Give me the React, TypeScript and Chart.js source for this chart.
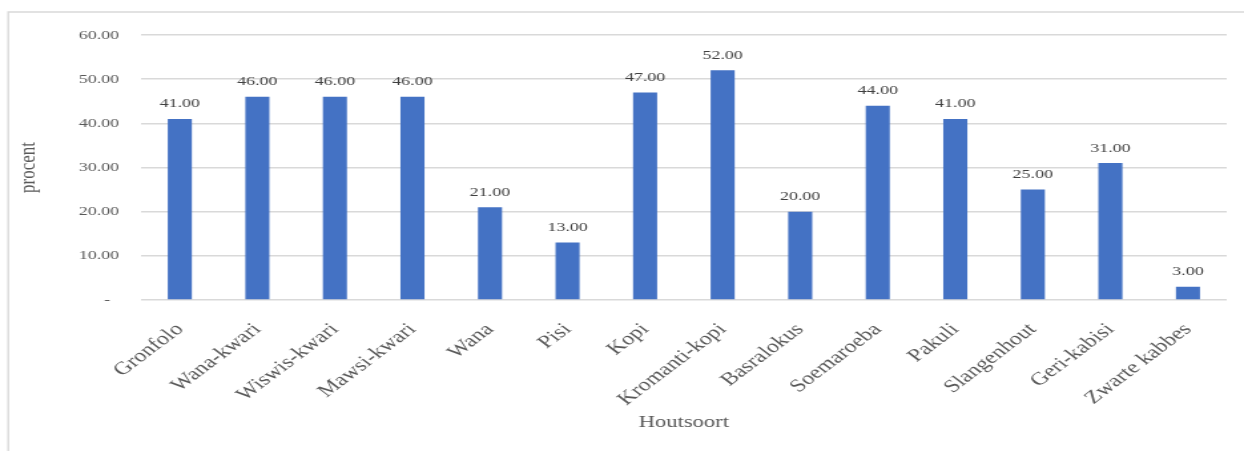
import React, { useEffect, useRef } from "react";
import { Chart, registerables } from "chart.js";

Chart.register(...registerables);

const categories: string[] = [
  "Gronfolo",
  "Wana-kwari",
  "Wiswis-kwari",
  "Mawsi-kwari",
  "Wana",
  "Pisi",
  "Kopi",
  "Kromanti-kopi",
  "Basralokus",
  "Soemaroeba",
  "Pakuli",
  "Slangenhout",
  "Geri-kabisi",
  "Zwarte kabbes",
];

const percentages: number[] = [41, 46, 46, 46, 21, 13, 47, 52, 20, 44, 41, 25, 31, 3];

const yTickValues: number[] = [0, 10, 20, 30, 40, 50, 60];

const SERIF = "'Liberation Serif', 'Times New Roman', serif";
const AXIS_GREY = "#595959";
const GRID_GREY = "#d9d9d9";
const BAR_BLUE = "#4472C4";

// The drawing surface is rendered narrower than it is displayed, then widened by CSS.
const RENDER_W = 935;
const RENDER_H = 451;
const DISPLAY_W = 1244;
const DISPLAY_H = 451;

const frameBorder = {
  id: "frameBorder",
  beforeDraw(chart: Chart) {
    const ctx = chart.ctx;
    ctx.save();
    ctx.strokeStyle = GRID_GREY;
    ctx.lineWidth = 1.4;
    ctx.beginPath();
    ctx.moveTo(6.2, RENDER_H + 2);
    ctx.lineTo(6.2, 12);
    ctx.lineTo(RENDER_W + 2, 12);
    ctx.stroke();
    ctx.restore();
  },
};

const valueLabels = {
  id: "valueLabels",
  afterDatasetsDraw(chart: Chart) {
    const ctx = chart.ctx;
    const meta = chart.getDatasetMeta(0);
    const data = chart.data.datasets[0].data as number[];
    ctx.save();
    ctx.font = `13.5px ${SERIF}`;
    ctx.fillStyle = "#404040";
    ctx.textAlign = "center";
    ctx.textBaseline = "alphabetic";
    meta.data.forEach((bar: any, i: number) => {
      ctx.fillText(data[i].toFixed(2), bar.x, bar.y - 11.5);
    });
    ctx.restore();
  },
};

export default function App() {
  const canvasRef = useRef<HTMLCanvasElement | null>(null);

  useEffect(() => {
    if (!canvasRef.current) return;
    const chart = new Chart(canvasRef.current, {
      type: "bar",
      data: {
        labels: categories,
        datasets: [
          {
            label: "procent",
            data: percentages,
            backgroundColor: BAR_BLUE,
            borderWidth: 0,
            categoryPercentage: 1,
            barPercentage: 0.31,
          },
        ],
      },
      options: {
        animation: false,
        responsive: false,
        devicePixelRatio: 1,
        layout: { padding: { left: 0, right: RENDER_W - 922, top: 35, bottom: 0 } },
        plugins: {
          legend: { display: false },
          tooltip: { enabled: false },
        },
        scales: {
          x: {
            grid: { display: false, drawTicks: false },
            border: { display: false },
            ticks: {
              autoSkip: false,
              minRotation: 45,
              maxRotation: 45,
              padding: 19,
              color: AXIS_GREY,
              font: { family: SERIF, size: 18 },
            },
            title: {
              display: true,
              text: "Houtsoort",
              color: AXIS_GREY,
              font: { family: SERIF, size: 17 },
              padding: { top: 0, bottom: 17.8 },
            },
            afterFit(scale: any) {
              scale.height = RENDER_H - 300;
            },
          },
          y: {
            min: 0,
            max: 60,
            grid: { color: GRID_GREY, lineWidth: 1.4, drawTicks: false },
            border: { display: false },
            afterBuildTicks(scale: any) {
              scale.ticks = yTickValues.map((v) => ({ value: v }));
            },
            ticks: {
              padding: 16.5,
              color: AXIS_GREY,
              font: { family: SERIF, size: 13.5 },
              callback: (v: any) => (Number(v) === 0 ? "-  " : Number(v).toFixed(2)),
            },
            title: {
              display: true,
              text: "procent",
              color: AXIS_GREY,
              font: { family: SERIF, size: 17 },
              padding: { top: 11.5, bottom: 0 },
            },
            afterFit(scale: any) {
              scale.width = 106;
            },
          },
        },
      },
      plugins: [frameBorder, valueLabels],
    });
    return () => chart.destroy();
  }, []);

  return (
    <div style={{ position: "absolute", left: 0, top: 0, width: DISPLAY_W, height: DISPLAY_H, background: "#fff" }}>
      <canvas
        ref={canvasRef}
        width={RENDER_W}
        height={RENDER_H}
        style={{ display: "block", width: `${DISPLAY_W}px`, height: `${DISPLAY_H}px` }}
      />
    </div>
  );
}
